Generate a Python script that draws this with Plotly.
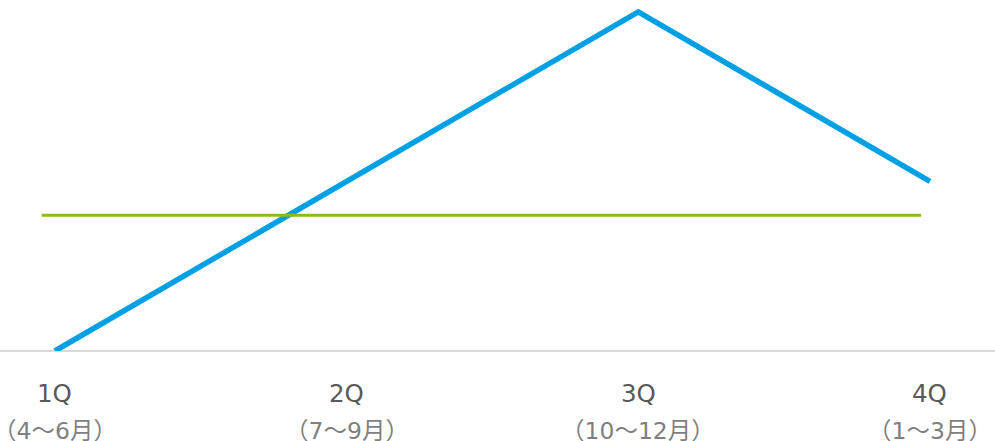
import plotly.graph_objects as go

# quarters (x positions 0..3)
quarters = ["1Q", "2Q", "3Q", "4Q"]
months = ["（4～6月）", "（7～9月）", "（10～12月）", "（1～3月）"]
actual = [0, 50, 100, 50]
# flat target line, runs slightly short of the outer quarter points
target_x = [-0.045, 2.97]
target_y = [40, 40]

BLUE = "#00a0e4"
GREEN = "#8fb821"
FONT = "DejaVu Sans, Noto Sans CJK JP"

xs = list(range(len(quarters)))

fig = go.Figure()
fig.add_trace(go.Scatter(
    x=xs, y=actual, mode="lines",
    line=dict(color=BLUE, width=5.5),
    showlegend=False, hoverinfo="skip",
))
fig.add_trace(go.Scatter(
    x=target_x, y=target_y, mode="lines",
    line=dict(color=GREEN, width=3),
    showlegend=False, hoverinfo="skip",
))

annotations = []
for x, q, m in zip(xs, quarters, months):
    annotations.append(dict(
        x=x, y=0, xref="x", yref="paper", yanchor="middle",
        yshift=-42, text=q, showarrow=False,
        font=dict(family=FONT, size=24.5, color="#595959"),
    ))
    annotations.append(dict(
        x=x, y=0, xref="x", yref="paper", yanchor="middle",
        yshift=-80, text=m, showarrow=False,
        font=dict(family=FONT, size=23.5, color="#7f7f7f"),
    ))

fig.update_layout(
    width=995, height=441,
    paper_bgcolor="white", plot_bgcolor="white",
    margin=dict(l=0, r=0, t=0, b=90),
    annotations=annotations,
)
fig.update_xaxes(
    range=[-0.188, 3.223], showgrid=False, zeroline=False,
    showticklabels=False, showline=False,
)
fig.update_yaxes(
    range=[0, 103.5], showgrid=False, zeroline=True,
    zerolinecolor="#d9d9d9", zerolinewidth=1.5,
    showticklabels=False, showline=False,
)

fig.write_html(
    "out.html",
    config={"displayModeBar": False},
    post_script="document.body.style.margin='0';document.body.style.overflow='hidden';",
)
